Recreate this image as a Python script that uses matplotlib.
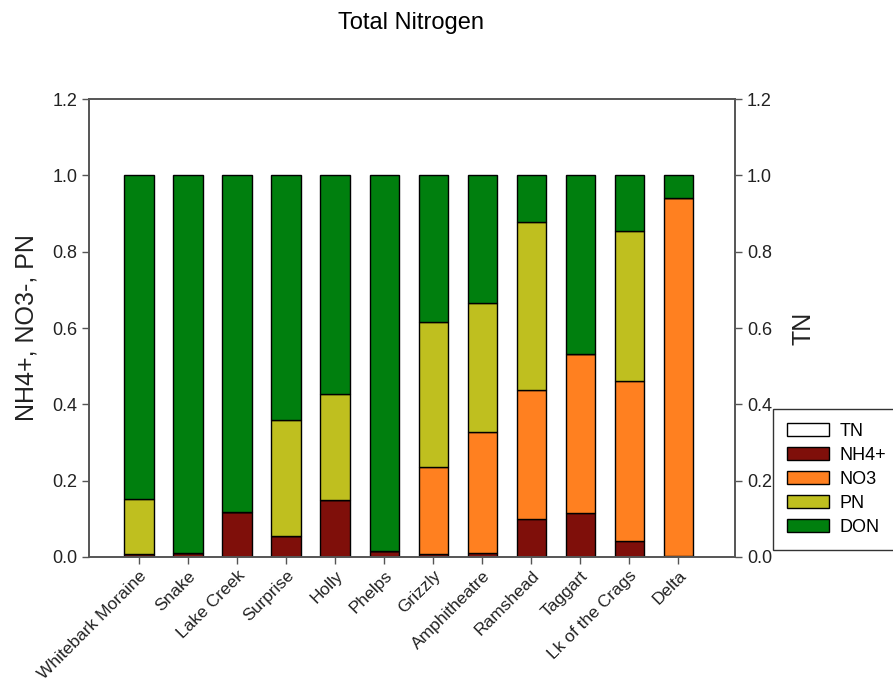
"""Total nitrogen partitioning by lake - stacked fraction bars"""

import numpy as np
import matplotlib
matplotlib.use("Agg")
import matplotlib.pyplot as plt
from matplotlib.patches import Patch

plt.rcParams["font.family"] = ["Liberation Sans", "DejaVu Sans"]

# ── data: fraction of TN per component ──
lakes = ["Whitebark Moraine", "Snake", "Lake Creek", "Surprise", "Holly", "Phelps",
         "Grizzly", "Amphitheatre", "Ramshead", "Taggart", "Lk of the Crags", "Delta"]
nh4 = [0.008, 0.011, 0.118, 0.056, 0.149, 0.016, 0.007, 0.010, 0.100, 0.115, 0.041, 0.003]
no3 = [0.000, 0.000, 0.000, 0.000, 0.000, 0.000, 0.229, 0.318, 0.337, 0.418, 0.421, 0.937]
pn = [0.143, 0.000, 0.000, 0.302, 0.277, 0.000, 0.379, 0.337, 0.440, 0.000, 0.391, 0.000]
don = [0.849, 0.989, 0.882, 0.642, 0.574, 0.984, 0.385, 0.335, 0.123, 0.467, 0.147, 0.060]

colors = {"NH4+": "#7f0f0a", "NO3": "#ff8020", "PN": "#bfbf1f", "DON": "#007f0e"}
spine_c = "#555555"
text_c = "#222222"

fig = plt.figure(figsize=(8.93, 6.83), dpi=100)
ax = fig.add_axes([0.0997, 0.1845, 0.7237, 0.6705])

x = np.arange(len(lakes))
width = 0.6
bottom = np.zeros(len(lakes))
for name, vals in [("NH4+", nh4), ("NO3", no3), ("PN", pn), ("DON", don)]:
    vals = np.array(vals)
    ax.bar(x, vals, width, bottom=bottom, color=colors[name],
           edgecolor="black", linewidth=1.0, zorder=2)
    bottom += vals

yt = np.arange(0, 1.21, 0.2)
ax.set_xlim(-1.02, 12.16)
ax.set_ylim(0, 1.2)
ax.set_yticks(yt)
ax.set_yticklabels([f"{v:.1f}" for v in yt])
ax.set_xticks(x)
ax.set_xticklabels(lakes, rotation=45, ha="right", rotation_mode="anchor")
ax.set_ylabel("NH4+, NO3-, PN", fontsize=18, color=text_c, labelpad=10)
ax.tick_params(direction="out", length=5, width=1, colors=spine_c,
               labelcolor=text_c, labelsize=13)
ax.tick_params(axis="x", labelsize=12.5, pad=3)
for s in ax.spines.values():
    s.set_color(spine_c)
    s.set_linewidth(1.2)

# TN on the right axis, same scale
ax2 = ax.twinx()
ax2.set_ylim(0, 1.2)
ax2.set_yticks(yt)
ax2.set_yticklabels([f"{v:.1f}" for v in yt])
ax2.set_ylabel("TN", fontsize=18, color=text_c, labelpad=14)
ax2.tick_params(direction="out", length=5, width=1, colors=spine_c,
                labelcolor=text_c, labelsize=13)
for s in ax2.spines.values():
    s.set_color(spine_c)
    s.set_linewidth(1.2)

fig.suptitle("Total Nitrogen", x=0.46, y=0.982, fontsize=17)

handles = [Patch(facecolor="white", edgecolor="black", label="TN")]
handles += [Patch(facecolor=c, edgecolor="black", label=n) for n, c in colors.items()]
leg = fig.legend(handles=handles, loc="lower left", bbox_to_anchor=(0.8656, 0.1947),
                 frameon=True, fancybox=False, fontsize=13, handlelength=2.3,
                 handleheight=0.7, handletextpad=0.6, labelspacing=0.38,
                 borderpad=0.8, borderaxespad=0)
leg.get_frame().set_edgecolor("black")
leg.get_frame().set_linewidth(1.0)

fig.savefig("out.png", dpi=100)
